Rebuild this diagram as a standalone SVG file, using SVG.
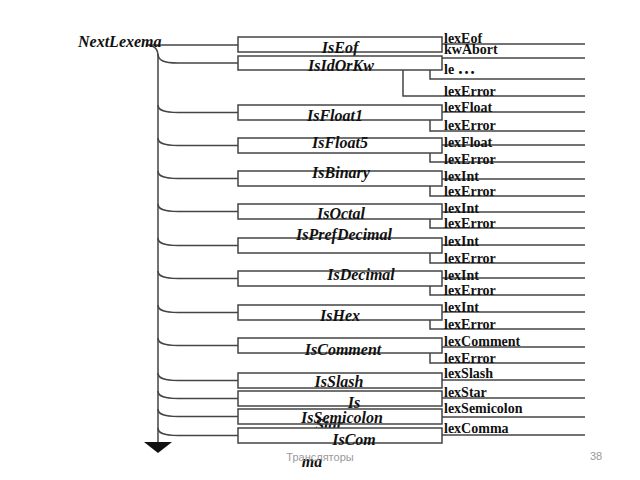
<svg xmlns="http://www.w3.org/2000/svg" width="640" height="480" viewBox="0 0 640 480">
<style>
.bx{fill:#fff;stroke:#444;stroke-width:1.5}
.ln{fill:none;stroke:#444;stroke-width:1.5}
.lb{font-family:"Liberation Serif","Times New Roman",serif;font-size:16px;font-weight:bold;font-style:italic;fill:#111;text-anchor:middle}
.out{font-family:"Liberation Serif","Times New Roman",serif;font-size:14px;font-weight:bold;fill:#111}
.ft{font-family:"Liberation Sans",Arial,sans-serif;font-size:11px;fill:#9a9a9a}
</style>
<rect width="640" height="480" fill="#fff"/>
<g id="connectors">
<path class="ln" d="M148,45 L238,45"/>
<path class="ln" d="M146,45 C154,45 158,49 158,56 L158,442"/>
<path class="ln" d="M158,54 C158,60 163,63 178,63 L238,63"/>
<path class="ln" d="M158,105 C158,110 163,112.5 178,112.5 L238,112.5"/>
<path class="ln" d="M158,138 C158,143 163,145.5 178,145.5 L238,145.5"/>
<path class="ln" d="M158,171 C158,176 163,178.5 178,178.5 L238,178.5"/>
<path class="ln" d="M158,204 C158,209 163,211.5 178,211.5 L238,211.5"/>
<path class="ln" d="M158,238 C158,243 163,245.5 178,245.5 L238,245.5"/>
<path class="ln" d="M158,271 C158,276 163,278.5 178,278.5 L238,278.5"/>
<path class="ln" d="M158,305 C158,310 163,312.5 178,312.5 L238,312.5"/>
<path class="ln" d="M158,338 C158,343 163,345.5 178,345.5 L238,345.5"/>
<path class="ln" d="M158,373 C158,378 163,380.5 178,380.5 L238,380.5"/>
<path class="ln" d="M158,391 C158,396 163,398.5 178,398.5 L238,398.5"/>
<path class="ln" d="M158,409 C158,414 163,416.5 178,416.5 L238,416.5"/>
<path class="ln" d="M158,428 C158,433 163,435.5 178,435.5 L238,435.5"/>
<polygon points="144,442 172,442 158,453" fill="#111"/>
<path class="ln" d="M442,44 L585,44"/>
<path class="ln" d="M442,58 L585,58"/>
<path class="ln" d="M430,70 L430,79 L585,79"/>
<path class="ln" d="M403,70 L403,96 L585,96"/>
<path class="ln" d="M442,112 L585,112"/>
<path class="ln" d="M430,120 L430,131 L585,131"/>
<path class="ln" d="M442,145 L585,145"/>
<path class="ln" d="M430,153 L430,162 L585,162"/>
<path class="ln" d="M442,179 L585,179"/>
<path class="ln" d="M430,186 L430,196 L585,196"/>
<path class="ln" d="M442,212 L585,212"/>
<path class="ln" d="M430,219 L430,228 L585,228"/>
<path class="ln" d="M442,245 L585,245"/>
<path class="ln" d="M430,253 L430,263 L585,263"/>
<path class="ln" d="M442,278 L585,278"/>
<path class="ln" d="M430,286 L430,295 L585,295"/>
<path class="ln" d="M442,312 L585,312"/>
<path class="ln" d="M430,320 L430,329 L585,329"/>
<path class="ln" d="M442,347 L585,347"/>
<path class="ln" d="M430,353 L430,363 L585,363"/>
<path class="ln" d="M442,380 L585,380"/>
<path class="ln" d="M442,398 L585,398"/>
<path class="ln" d="M442,417 L585,417"/>
<path class="ln" d="M442,435 L585,435"/>
</g>
<g id="NextLexema"><text x="78" y="47" class="lb" style="text-anchor:start">NextLexema</text></g>
<g id="IsEof"><rect class="bx" x="238" y="37" width="204" height="15"/><text class="lb" x="340" y="53">IsEof</text></g>
<g id="IsIdOrKw"><rect class="bx" x="238" y="56" width="204" height="14"/><text class="lb" x="341" y="71">IsIdOrKw</text></g>
<g id="IsFloat1"><rect class="bx" x="238" y="105" width="204" height="15"/><text class="lb" x="335" y="121">IsFloat1</text></g>
<g id="IsFloat5"><rect class="bx" x="238" y="138" width="204" height="15"/><text class="lb" x="340" y="148">IsFloat5</text></g>
<g id="IsBinary"><rect class="bx" x="238" y="171" width="204" height="15"/><text class="lb" x="341" y="178">IsBinary</text></g>
<g id="IsOctal"><rect class="bx" x="238" y="204" width="204" height="15"/><text class="lb" x="341" y="219">IsOctal</text></g>
<g id="IsPrefDecimal"><rect class="bx" x="238" y="238" width="204" height="15"/><text class="lb" x="344" y="240">IsPrefDecimal</text></g>
<g id="IsDecimal"><rect class="bx" x="238" y="271" width="204" height="15"/><text class="lb" x="361" y="280">IsDecimal</text></g>
<g id="IsHex"><rect class="bx" x="238" y="305" width="204" height="15"/><text class="lb" x="340" y="321">IsHex</text></g>
<g id="IsComment"><rect class="bx" x="238" y="338" width="204" height="15"/><text class="lb" x="343" y="355">IsComment</text></g>
<g id="IsSlash"><rect class="bx" x="238" y="373" width="204" height="15"/><text class="lb" x="339" y="387">IsSlash</text></g>
<g id="IsStar"><rect class="bx" x="238" y="391" width="204" height="15"/><text class="lb" x="354" y="408">Is</text><text class="lb" x="329" y="430">Star</text></g>
<g id="IsSemicolon"><rect class="bx" x="238" y="409" width="204" height="15" fill-opacity="0"/><text class="lb" x="342" y="423">IsSemicolon</text></g>
<g id="IsComma"><rect class="bx" x="238" y="428" width="204" height="15"/><text class="lb" x="354" y="445">IsCom</text><text class="lb" x="312" y="467">ma</text></g>
<g id="outputs">
<text class="out" x="444" y="43">lexEof</text>
<text class="out" x="444" y="54">kwAbort</text>
<text class="out" x="444" y="74">le <tspan font-size="18">…</tspan></text>
<text class="out" x="444" y="96">lexError</text>
<text class="out" x="444" y="112">lexFloat</text>
<text class="out" x="444" y="130">lexError</text>
<text class="out" x="444" y="147">lexFloat</text>
<text class="out" x="444" y="164">lexError</text>
<text class="out" x="444" y="181">lexInt</text>
<text class="out" x="444" y="196">lexError</text>
<text class="out" x="444" y="213">lexInt</text>
<text class="out" x="444" y="228">lexError</text>
<text class="out" x="444" y="246">lexInt</text>
<text class="out" x="444" y="263">lexError</text>
<text class="out" x="444" y="280">lexInt</text>
<text class="out" x="444" y="295">lexError</text>
<text class="out" x="444" y="312">lexInt</text>
<text class="out" x="444" y="329">lexError</text>
<text class="out" x="444" y="346">lexComment</text>
<text class="out" x="444" y="363">lexError</text>
<text class="out" x="444" y="378">lexSlash</text>
<text class="out" x="444" y="397">lexStar</text>
<text class="out" x="444" y="413">lexSemicolon</text>
<text class="out" x="444" y="433">lexComma</text>
</g>
<g id="footer">
<text class="ft" x="320" y="461" text-anchor="middle">Трансляторы</text>
<text class="ft" x="590" y="460">38</text>
</g>
</svg>
